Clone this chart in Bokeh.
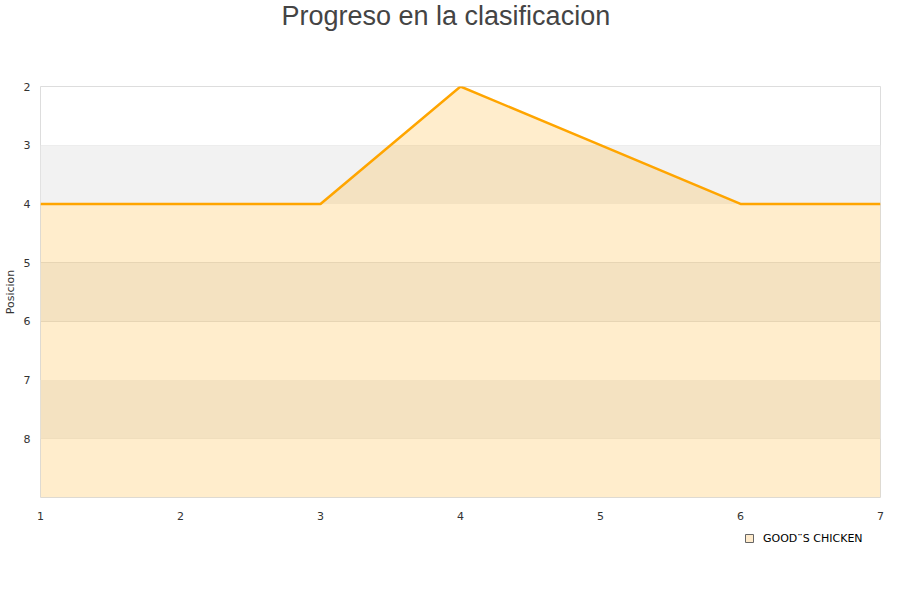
from bokeh.plotting import figure
from bokeh.layouts import column
from bokeh.models import Range1d, FixedTicker, BoxAnnotation, Legend, LegendItem
from bokeh.embed import file_html
from bokeh.resources import INLINE

jornadas = [1, 2, 3, 4, 5, 6, 7]
posiciones = [4, 4, 4, 2, 3, 4, 4]
y_ticks = [2, 3, 4, 5, 6, 7, 8]
band_tops = [3, 5, 7]
band_bottoms = [4, 6, 8]
team = "GOOD¨S CHICKEN"
title = "Progreso en la clasificacion"

# title strip above the chart
head = figure(width=892, height=40, output_backend="svg", toolbar_location=None,
              x_axis_location=None, y_axis_location=None, title=title,
              min_border_left=40, min_border_right=12, min_border_top=0, min_border_bottom=0)
head.outline_line_color = None
head.xgrid.grid_line_color = None
head.ygrid.grid_line_color = None
head.title.align = "left"
head.title.offset = 241
head.title.vertical_align = "top"
head.title.standoff = 0
head.title.text_font = "Liberation Sans"
head.title.text_font_size = "27px"
head.title.text_font_style = "normal"
head.title.text_color = "#444444"

p = figure(width=892, height=482, output_backend="svg", toolbar_location=None,
           x_range=Range1d(1, 7), y_range=Range1d(9, 2), title=None,
           min_border_left=40, min_border_right=12, min_border_top=46, min_border_bottom=22)

xax = p.below[0]
yax = p.left[0]
xax.ticker = FixedTicker(ticks=jornadas)
yax.ticker = FixedTicker(ticks=y_ticks)
for ax in (xax, yax):
    ax.axis_line_color = None
    ax.major_tick_line_color = None
    ax.minor_tick_line_color = None
    ax.major_label_text_font = "DejaVu Sans"
    ax.major_label_text_font_size = "11px"
    ax.major_label_text_color = "#333333"
xax.major_label_standoff = 8
yax.major_label_standoff = 4
yax.axis_label = "Posicion"
yax.axis_label_text_font = "DejaVu Sans"
yax.axis_label_text_font_size = "11px"
yax.axis_label_text_font_style = "normal"
yax.axis_label_text_color = "#333333"
yax.axis_label_standoff = 4

p.outline_line_color = "#dddddd"
p.background_fill_color = "white"
p.border_fill_color = "white"

for t, b in zip(band_tops, band_bottoms):
    p.add_layout(BoxAnnotation(top=t, bottom=b, fill_color="#f2f2f2", fill_alpha=1,
                               line_color=None, level="underlay"))

area = p.varea(x=jornadas, y1=posiciones, y2=9, fill_color="#FFA500", fill_alpha=0.2)
line = p.line(jornadas, posiciones, line_color="#FFA500", line_width=2.5)

p.xgrid.grid_line_color = None
p.ygrid.ticker = FixedTicker(ticks=y_ticks)
p.ygrid.grid_line_color = "#dddddd"
p.ygrid.level = "underlay"

# legend strip below the chart
leg = figure(width=892, height=70, output_backend="svg", toolbar_location=None,
             x_axis_location=None, y_axis_location=None,
             min_border_left=0, min_border_right=0, min_border_top=0, min_border_bottom=0)
leg.outline_line_color = None
leg.xgrid.grid_line_color = None
leg.ygrid.grid_line_color = None
swatch = leg.scatter(x=jornadas[:1], y=posiciones[:1], marker="square", size=0,
                     fill_color="#FFEBCC", line_color="#666666", line_width=1)
legend = Legend(items=[LegendItem(label=team, renderers=[swatch])],
                location=(699, 44), orientation="horizontal",
                border_line_color=None, background_fill_alpha=0,
                label_text_font="DejaVu Sans", label_text_font_size="11px",
                label_text_color="#000000", glyph_width=20, glyph_height=20,
                label_height=14, margin=0, padding=0, spacing=0, label_standoff=4)
leg.add_layout(legend, "center")

layout = column(head, p, leg, spacing=0)
open("out.html", "w").write(file_html(layout, INLINE))
